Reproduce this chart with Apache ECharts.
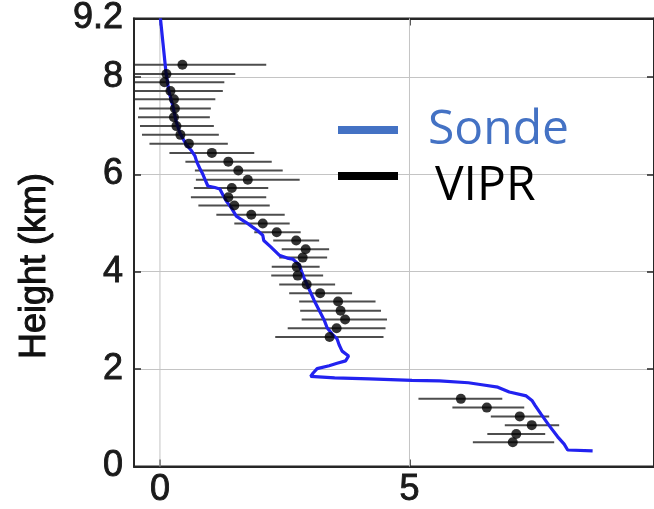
<!DOCTYPE html>
<html>
<head>
<meta charset="utf-8">
<script src="https://cdn.jsdelivr.net/npm/echarts@6/dist/echarts.min.js"></script>
<style>
  html, body { margin: 0; padding: 0; background: #ffffff; }
  #chart { width: 654px; height: 509px; }
</style>
</head>
<body>
<div id="chart"></div>
<script>
// Radiosonde profile: value along x, height (km) along y, in drawing order
const sondeValue = [0.01, 0.06, 0.12, 0.18, 0.26, 0.32, 0.40, 0.52, 0.62, 0.70, 0.74, 0.80, 0.86, 0.90, 0.96,
  1.10, 1.20, 1.26, 1.33, 1.43, 1.53, 1.62, 1.73, 1.85, 1.96, 2.06, 2.08, 2.22, 2.39, 2.55, 2.66, 2.79,
  2.84, 2.89, 2.99, 3.09, 3.19, 3.29, 3.35, 3.45, 3.55, 3.59, 3.65, 3.78, 3.72, 3.55, 3.39, 3.15, 3.07,
  3.02, 3.50, 4.20, 5.05, 5.60, 6.18, 6.45, 6.77, 7.00, 7.34, 7.46, 7.52, 7.64, 7.80, 7.97, 8.10, 8.17, 8.67];
const sondeHeight = [9.20, 8.70, 8.10, 7.70, 7.40, 7.10, 6.85, 6.62, 6.50, 6.38, 6.25, 6.12, 6.00, 5.90, 5.76,
  5.73, 5.70, 5.58, 5.45, 5.31, 5.14, 5.08, 5.01, 4.92, 4.84, 4.75, 4.64, 4.51, 4.34, 4.28, 4.26, 4.14,
  4.00, 3.87, 3.64, 3.41, 3.21, 3.01, 2.85, 2.72, 2.62, 2.50, 2.37, 2.27, 2.17, 2.12, 2.07, 2.01, 1.92,
  1.85, 1.82, 1.80, 1.77, 1.76, 1.72, 1.68, 1.63, 1.53, 1.45, 1.35, 1.25, 1.07, 0.84, 0.61, 0.46, 0.34, 0.32];

// VIPR retrievals: height (km), estimate, and lower / upper uncertainty bounds
const viprHeight = [8.25, 8.06, 7.89, 7.71, 7.54, 7.35, 7.17, 6.99, 6.81, 6.63, 6.44, 6.26, 6.08, 5.89, 5.72,
  5.53, 5.36, 5.17, 4.99, 4.81, 4.64, 4.46, 4.29, 4.10, 3.92, 3.74, 3.56, 3.39, 3.20, 3.02, 2.84, 2.66,
  1.39, 1.21, 1.03, 0.85, 0.67, 0.50];
const viprValue = [0.45, 0.13, 0.09, 0.21, 0.28, 0.30, 0.28, 0.33, 0.41, 0.58, 1.04, 1.37, 1.57, 1.76, 1.44,
  1.37, 1.49, 1.83, 2.06, 2.34, 2.73, 2.92, 2.86, 2.74, 2.76, 2.94, 3.21, 3.57, 3.62, 3.71, 3.54, 3.40,
  6.03, 6.55, 7.21, 7.45, 7.14, 7.07];
const viprLow = [-0.50, -0.50, -0.50, -0.50, -0.50, -0.42, -0.44, -0.40, -0.36, -0.21, 0.19, 0.51, 0.70, 0.72, 0.68,
  0.62, 0.77, 1.13, 1.49, 1.89, 2.27, 2.44, 2.39, 2.24, 2.23, 2.39, 2.59, 2.79, 2.81, 2.84, 2.56, 2.31,
  5.18, 5.86, 6.63, 6.91, 6.56, 6.27];
const viprHigh = [2.13, 1.51, 1.29, 1.26, 1.11, 1.02, 1.00, 1.08, 1.18, 1.36, 1.89, 2.24, 2.46, 2.80, 2.17,
  2.13, 2.20, 2.50, 2.60, 2.82, 3.19, 3.39, 3.35, 3.20, 3.27, 3.51, 3.85, 4.32, 4.43, 4.55, 4.52, 4.48,
  6.86, 7.30, 7.80, 8.00, 7.72, 7.90];

// Axis ticks and labels
const xTicks = [0, 5];
const yTicks = [0, 2, 4, 6, 8];
const xRange = [-0.52, 9.9];
const yRange = [0, 9.2];

const sondeData = sondeValue.map((v, i) => [v, sondeHeight[i]]);
const viprPoints = viprValue.map((v, i) => [v, viprHeight[i]]);
const viprBars = viprValue.map((v, i) => [v, viprHeight[i], viprLow[i], viprHigh[i]]);
// vertical grid lines: x position, bottom and top of the height range
const xGridLines = xTicks.map(v => [v, yRange[0], yRange[1]]);

const axisColor = '#262626';
const gridColor = '#c4c4c4';
const labelFont = 'Liberation Sans, Arial, sans-serif';
const legendFont = 'Open Sans, sans-serif';

function labelStyle(extra) {
  return Object.assign({
    fontSize: 36, color: '#1a1a1a', fontFamily: labelFont,
    textBorderColor: '#1a1a1a', textBorderWidth: 0.9
  }, extra);
}
function frameLine() {
  return { show: true, onZero: false, lineStyle: { color: axisColor, width: 2 } };
}
function innerTicks(values) {
  const t = { show: true, inside: true, length: 7, lineStyle: { color: axisColor, width: 1.5 } };
  if (values) t.customValues = values;
  return t;
}

// legend key for VIPR: bar at the top of a taller box, so the label sits a little lower
const viprKey = 'path://M0,0L60,0L60,8L0,8Z M0,27.99L0.01,27.99L0.01,28L0,28Z';

const chart = echarts.init(document.getElementById('chart'));

chart.setOption({
  animation: false,
  backgroundColor: '#ffffff',
  grid: {
    left: 134, right: -3, top: 7, bottom: 42,
    show: true, borderColor: axisColor, borderWidth: 2
  },
  xAxis: [
    {
      type: 'value', position: 'bottom', min: xRange[0], max: xRange[1],
      axisLine: frameLine(),
      axisTick: innerTicks(xTicks),
      axisLabel: labelStyle({ show: true, customValues: xTicks, margin: 6 }),
      splitLine: { show: false }
    },
    {
      type: 'value', position: 'top', min: xRange[0], max: xRange[1],
      axisLine: frameLine(),
      axisTick: innerTicks(xTicks),
      axisLabel: { show: false },
      splitLine: { show: false }
    }
  ],
  yAxis: [
    {
      type: 'value', position: 'left', min: yRange[0], max: yRange[1], interval: 2,
      axisLine: frameLine(),
      axisTick: innerTicks(null),
      axisLabel: labelStyle({ show: true, margin: 11 }),
      splitLine: { show: true, lineStyle: { color: gridColor, width: 1 } }
    },
    {
      type: 'value', position: 'right', min: yRange[0], max: yRange[1], interval: 2,
      axisLine: frameLine(),
      axisTick: innerTicks(null),
      axisLabel: { show: false },
      splitLine: { show: false }
    }
  ],
  legend: [
    {
      left: 333, top: 101, orient: 'vertical', icon: 'rect',
      itemWidth: 60, itemHeight: 8, selectedMode: false,
      data: [{ name: 'Sonde', itemStyle: { color: '#4472c4' }, textStyle: { color: '#4472c4' } }],
      textStyle: { fontSize: 48, fontFamily: legendFont, color: '#4472c4', padding: [0, 0, 0, 25] }
    },
    {
      left: 333, top: 157, orient: 'vertical', icon: viprKey,
      itemWidth: 60, itemHeight: 28, selectedMode: false,
      data: [{ name: 'VIPR', icon: viprKey, itemStyle: { color: '#000000' }, textStyle: { color: '#000000' } }],
      textStyle: { fontSize: 48, fontFamily: legendFont, color: '#000000', padding: [0, 0, 0, 32] }
    }
  ],
  graphic: [
    {
      type: 'text', x: 35, y: 266, rotation: Math.PI / 2,
      style: { text: 'Height (km)', fontSize: 36, fontFamily: labelFont, fill: '#111',
        stroke: '#111', lineWidth: 1, align: 'center', verticalAlign: 'middle' }
    }
  ],
  series: [
    {
      type: 'custom', z: 1, silent: true,
      data: xGridLines,
      encode: { x: 0, y: [1, 2] },
      renderItem: function (params, api) {
        const a = api.coord([api.value(0), api.value(1)]);
        const b = api.coord([api.value(0), api.value(2)]);
        return {
          type: 'line',
          shape: { x1: a[0], y1: a[1], x2: b[0], y2: b[1] },
          style: { stroke: gridColor, lineWidth: 1 }
        };
      }
    },
    {
      name: 'VIPR', type: 'custom', z: 3, silent: true,
      data: viprBars,
      encode: { x: [0, 2, 3], y: 1 },
      renderItem: function (params, api) {
        const a = api.coord([api.value(2), api.value(1)]);
        const b = api.coord([api.value(3), api.value(1)]);
        return {
          type: 'line',
          shape: { x1: a[0], y1: a[1], x2: b[0], y2: b[1] },
          style: { stroke: '#4d4d4d', lineWidth: 2 }
        };
      }
    },
    {
      name: 'Sonde', type: 'line', z: 4, data: sondeData,
      showSymbol: false, symbol: 'none', smooth: false,
      lineStyle: { color: '#2222f0', width: 3.2 },
      itemStyle: { color: '#2222f0' }
    },
    {
      name: 'VIPR', type: 'scatter', z: 5, data: viprPoints,
      symbol: 'circle', symbolSize: 10,
      itemStyle: { color: '#000000' }
    }
  ]
});
</script>
</body>
</html>
